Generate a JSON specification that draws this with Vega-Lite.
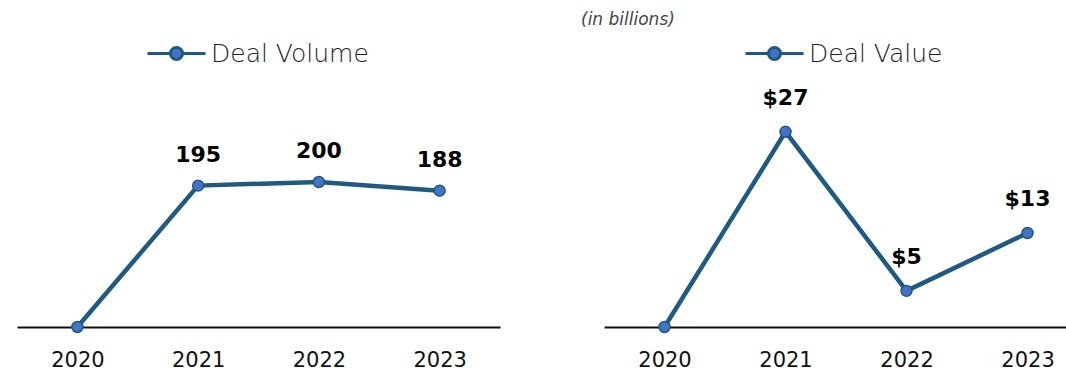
{
  "$schema": "https://vega.github.io/schema/vega-lite/v6.json",
  "autosize": "pad",
  "padding": {"left": 17, "top": 11, "right": 0, "bottom": 0},
  "background": "white",
  "bounds": "flush",
  "spacing": 104,
  "config": {
    "view": {"stroke": null},
    "axisX": {
      "domainColor": "#111111", "domainWidth": 2, "ticks": false, "grid": false,
      "labelFont": "DejaVu Sans", "labelFontSize": 21, "labelColor": "#111111",
      "labelPadding": 22, "title": null
    },
    "legend": {
      "labelFont": "DejaVu Sans", "labelFontSize": 25, "labelColor": "#222222",
      "labelFontWeight": 300
    }
  },
  "datasets": {
    "volume": [
      {"year": 2020, "value": 0, "label": "", "series": "Deal Volume"},
      {"year": 2021, "value": 195, "label": "195", "series": "Deal Volume"},
      {"year": 2022, "value": 200, "label": "200", "series": "Deal Volume"},
      {"year": 2023, "value": 188, "label": "188", "series": "Deal Volume"}
    ],
    "dealvalue": [
      {"year": 2020, "value": 0, "label": "", "series": "Deal Value"},
      {"year": 2021, "value": 27, "label": "$27", "series": "Deal Value"},
      {"year": 2022, "value": 5, "label": "$5", "series": "Deal Value"},
      {"year": 2023, "value": 13, "label": "$13", "series": "Deal Value"}
    ]
  },
  "hconcat": [
    {
      "width": 483,
      "height": 240,
      "data": {"name": "volume"},
      "encoding": {
        "x": {"field": "year", "type": "quantitative",
              "scale": {"domain": [2019.5, 2023.5], "nice": false, "zero": false},
              "axis": {"values": [2020, 2021, 2022, 2023], "format": "d", "orient": "bottom"}},
        "y": {"field": "value", "type": "quantitative",
              "scale": {"domain": [0, 331], "nice": false}, "axis": null}
      },
      "layer": [
        {
          "mark": {"type": "line", "strokeWidth": 4.5, "clip": false},
          "encoding": {
            "color": {"field": "series", "type": "nominal",
              "scale": {"domain": ["Deal Volume"], "range": ["#1f5a82"]},
              "legend": {"orient": "none", "legendX": 129, "legendY": -64, "title": null,
                "symbolType": "M-1,0H-0.21M0.21,0H1M-0.21,0A0.21,0.21 0 1,0 0.21,0A0.21,0.21 0 1,0 -0.21,0",
                "symbolSize": 3364, "symbolStrokeWidth": 3, "symbolFillColor": "#4472c4",
                "symbolStrokeColor": "#1f5a82", "symbolOpacity": 1, "labelOffset": 4}}
          }
        },
        {
          "mark": {"type": "point", "filled": true, "fill": "#4472c4", "stroke": "#1f5a82",
                   "strokeWidth": 1.5, "size": 120, "opacity": 1, "clip": false}
        },
        {
          "mark": {"type": "text", "font": "DejaVu Sans", "fontWeight": "bold", "fontSize": 22,
                   "color": "#000000", "dy": -31, "baseline": "middle"},
          "encoding": {"text": {"field": "label"}}
        }
      ]
    },
    {
      "width": 462,
      "height": 240,
      "data": {"name": "dealvalue"},
      "title": {"text": "(in billions)", "font": "DejaVu Sans", "fontStyle": "italic",
                "fontWeight": "normal", "fontSize": 17, "color": "#444444",
                "anchor": "start", "dx": -23, "offset": -6, "frame": "group"},
      "encoding": {
        "x": {"field": "year", "type": "quantitative",
              "scale": {"domain": [2019.5, 2023.318], "nice": false, "zero": false},
              "axis": {"values": [2020, 2021, 2022, 2023], "format": "d", "orient": "bottom"}},
        "y": {"field": "value", "type": "quantitative",
              "scale": {"domain": [0, 33.2], "nice": false}, "axis": null}
      },
      "layer": [
        {
          "mark": {"type": "line", "strokeWidth": 4.5, "clip": false},
          "encoding": {
            "color": {"field": "series", "type": "nominal",
              "scale": {"domain": ["Deal Value"], "range": ["#1f5a82"]},
              "legend": {"orient": "none", "legendX": 140, "legendY": -64, "title": null,
                "symbolType": "M-1,0H-0.21M0.21,0H1M-0.21,0A0.21,0.21 0 1,0 0.21,0A0.21,0.21 0 1,0 -0.21,0",
                "symbolSize": 3364, "symbolStrokeWidth": 3, "symbolFillColor": "#4472c4",
                "symbolStrokeColor": "#1f5a82", "symbolOpacity": 1, "labelOffset": 4}}
          }
        },
        {
          "mark": {"type": "point", "filled": true, "fill": "#4472c4", "stroke": "#1f5a82",
                   "strokeWidth": 1.5, "size": 120, "opacity": 1, "clip": false}
        },
        {
          "mark": {"type": "text", "font": "DejaVu Sans", "fontWeight": "bold", "fontSize": 22,
                   "color": "#000000", "dy": -34, "baseline": "middle"},
          "encoding": {"text": {"field": "label"}}
        }
      ]
    }
  ],
  "resolve": {"scale": {"color": "independent"}, "legend": {"color": "independent"}}
}
